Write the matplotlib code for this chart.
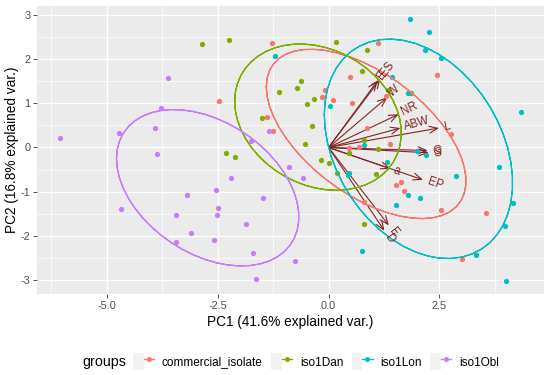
import numpy as np
import matplotlib
matplotlib.use("Agg")
import matplotlib.pyplot as plt
from matplotlib.lines import Line2D
from matplotlib.patches import Rectangle
from matplotlib.legend_handler import HandlerTuple

plt.rcParams["font.family"] = ["Liberation Sans", "DejaVu Sans"]
plt.rcParams["axes.unicode_minus"] = False

groups = ["commercial_isolate", "iso1Dan", "iso1Lon", "iso1Obl"]
colors = ["#F8766D", "#7CAE00", "#00BFC4", "#C77CFF"]

# PC scores, one pair of lists per group
pc1_commercial = [-2.47, -1.27, -1.38, -1.26, -0.07, -0.14, 0.11, 0.48, 0.54, 0.45, 0.69, 1.12,
                  2.45, 1.30, 2.77, 0.87, 1.38, 1.64, 1.53, 1.71, 0.79, 2.53, 3.56, 3.01]
pc2_commercial = [1.05, 2.36, 0.69, 0.38, 1.30, 1.15, 1.07, 1.60, 1.00, -0.01, 0.01, 2.35,
                  1.64, 1.17, 0.30, 0.44, 0.08, -0.77, -0.85, -0.98, -1.22, -1.42, -1.47, -2.52]

pc1_dan = [-2.85, -2.25, 0.16, -0.62, -1.12, -0.71, -0.33, -0.48, -1.51, -0.38, -0.54, -2.31, -2.10,
           0.45, -0.16, 0.01, 0.20, 0.87, 0.76, 1.33, 1.85, 0.79, 1.11, 1.08, 0.80]
pc2_dan = [2.33, 2.42, 2.39, 1.50, 1.26, 1.35, 1.09, 0.98, 0.66, 0.49, 0.09, -0.12, -0.22,
           -0.13, -0.29, -0.34, -0.58, 2.21, 1.72, 1.29, 1.23, 0.17, -0.04, -0.59, -1.73]

pc1_lon = [-1.21, 0.03, 1.83, 2.26, 2.17, 2.53, 1.43, 1.79, 0.80, 2.00, 2.20, 4.34, 0.43,
           0.46, 1.32, 3.85, 2.88, 1.79, 2.07, 1.51, 4.16, 3.97, 3.32, 0.76, 4.00]
pc2_lon = [2.07, 0.93, 2.90, 2.60, 2.21, 2.02, 1.59, 1.23, 0.06, -0.07, -0.17, 0.81, -0.63,
           -0.58, -0.32, -0.43, -0.64, -1.08, -1.14, -1.30, -1.26, -1.77, -2.42, -2.33, -3.02]

pc1_obl = [-6.05, -4.72, -3.62, -3.79, -3.91, -3.86, -1.35, -1.76, -3.20, -4.69, -3.45, -3.11, -3.43,
           -0.90, -0.57, -2.21, -2.53, -1.48, -2.49, -2.51, -1.87, -2.58, -1.70, -0.75, -1.64]
pc2_obl = [0.22, 0.32, 1.58, 0.90, 0.45, -0.15, 0.38, 0.15, -1.08, -1.40, -1.53, -1.93, -2.13,
           -0.43, -0.70, -0.68, -0.95, -1.14, -1.36, -1.53, -1.72, -2.08, -2.38, -2.57, -2.98]

# variable loadings (arrow tips)
var_names = ["ES", "E", "W", "NR", "ABW", "L", "G", "S", "a", "EP", "E", "D"]
var_pc1 = [1.17, 1.10, 1.32, 1.58, 1.62, 2.49, 2.24, 2.26, 1.40, 2.13, 1.36, 1.26]
var_pc2 = [1.55, 1.50, 1.13, 0.75, 0.44, 0.44, -0.07, -0.12, -0.48, -0.73, -1.76, -1.88]

pc1 = [pc1_commercial, pc1_dan, pc1_lon, pc1_obl]
pc2 = [pc2_commercial, pc2_dan, pc2_lon, pc2_obl]

arrow_col = "#832424"
ellipse_prob = 0.68

fig = plt.figure(figsize=(5.5, 3.75), dpi=100)
ax = fig.add_axes([37.3 / 550, 1 - 294.3 / 375, (544 - 37.3) / 550, (294.3 - 6) / 375])
ax.set_facecolor("#EBEBEB")
for s in ax.spines.values():
    s.set_visible(False)

# arrows from the origin
for name, vx, vy in zip(var_names, var_pc1, var_pc2):
    ax.annotate("", xy=(vx, vy), xytext=(0, 0), zorder=2.5,
                arrowprops=dict(arrowstyle="->,head_length=0.6,head_width=0.25",
                                color=arrow_col, lw=0.8, shrinkA=0, shrinkB=0))

# points
for xs, ys, c in zip(pc1, pc2, colors):
    ax.plot(xs, ys, "o", color=c, ms=3.8, mec="none", zorder=3)

# normal data ellipses, as in ggbiplot
theta = np.concatenate([np.linspace(-np.pi, np.pi, 50), np.linspace(np.pi, -np.pi, 50)])
circle = np.column_stack([np.cos(theta), np.sin(theta)])
ed = np.sqrt(-2 * np.log(1 - ellipse_prob))
for xs, ys, c in zip(pc1, pc2, colors):
    pts = np.column_stack([xs, ys])
    sigma = np.cov(pts, rowvar=False)
    chol = np.linalg.cholesky(sigma).T
    ell = circle @ chol * ed + pts.mean(axis=0)
    ax.plot(ell[:, 0], ell[:, 1], color=c, lw=0.9, zorder=4)

# variable labels
adj = 1.05
for name, vx, vy in zip(var_names, var_pc1, var_pc2):
    ax.text(vx * adj, vy * adj, name, rotation=np.degrees(np.arctan(vy / vx)),
            rotation_mode="anchor", ha="left", va="center", color=arrow_col,
            fontsize=8.3, zorder=5)

allx = np.concatenate(pc1)
ally = np.concatenate(pc2)
padx = 0.05 * (allx.max() - allx.min())
pady = 0.05 * (ally.max() - ally.min())
ax.set_xlim(allx.min() - padx, allx.max() + padx)
ax.set_ylim(ally.min() - pady, ally.max() + pady)

xt = [-5.0, -2.5, 0.0, 2.5]
yt = [-3, -2, -1, 0, 1, 2, 3]
ax.set_xticks(xt)
ax.set_xticklabels([f"{v:.1f}" for v in xt])
ax.set_yticks(yt)
ax.set_yticklabels([str(v) for v in yt])
ax.set_xticks([-6.25, -3.75, -1.25, 1.25, 3.75], minor=True)
ax.set_yticks([-2.5, -1.5, -0.5, 0.5, 1.5, 2.5], minor=True)
ax.grid(which="major", color="white", lw=1.0)
ax.grid(which="minor", color="white", lw=0.5)
ax.set_axisbelow(True)
ax.tick_params(which="major", length=2.75, width=0.6, color="#333333",
               labelcolor="#4D4D4D", labelsize=7.9, pad=2.2)
ax.tick_params(which="minor", length=0)

ax.set_xlabel("PC1 (41.6% explained var.)", fontsize=9.85, labelpad=3)
ax.set_ylabel("PC2 (16.8% explained var.)", fontsize=9.85, labelpad=1)

# legend at the bottom with the title on the left
handles = [(Rectangle((0, 0), 1, 1, facecolor="#F2F2F2", edgecolor="none"),
            Line2D([], [], color=c, lw=1.0, marker="o", ms=3.6, mec="none"))
           for c in colors]
fig.text(82.7 / 550, 1 - 361.7 / 375, "groups", fontsize=10.3, va="center", ha="left")
fig.legend(handles, groups, handler_map={tuple: HandlerTuple(ndivide=None, pad=0)},
           loc="center left", bbox_to_anchor=(133.3 / 550, 1 - 361.7 / 375), ncol=4,
           frameon=False, fontsize=8.5, handlelength=1.78, handleheight=1.78,
           handletextpad=0.65, columnspacing=0.71, borderpad=0, borderaxespad=0)

fig.savefig("out.png", dpi=100)
